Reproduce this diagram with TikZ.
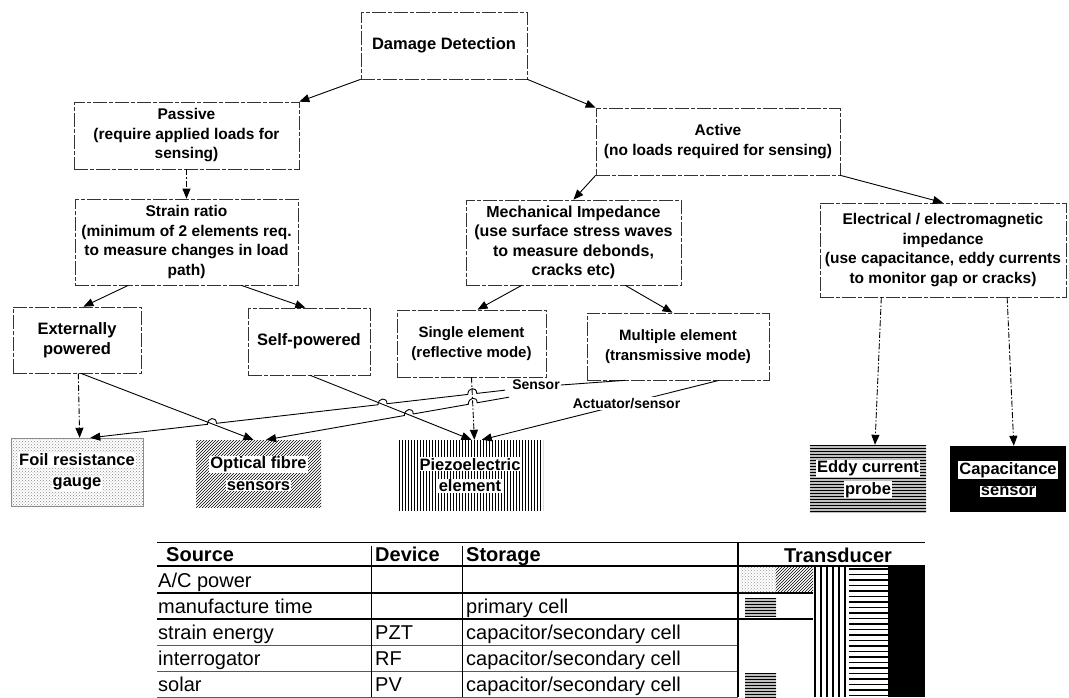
\documentclass[tikz,border=0pt]{standalone}
\usepackage{fontspec}
\setmainfont{Liberation Sans}
\usetikzlibrary{arrows.meta,patterns,calc,intersections}
\setlength{\fboxsep}{1pt}
\begin{document}
\begin{tikzpicture}[x=1pt,y=-1pt,
  box/.style={draw=black!80, line width=0.7pt, dash pattern=on 14pt off 2pt on 4pt off 2pt, rectangle, align=center, inner sep=1pt},
  t15/.style={font=\bfseries\fontsize{15}{19.5}\selectfont},
  t155/.style={font=\bfseries\fontsize{15.5}{19.5}\selectfont},
  t16/.style={font=\bfseries\fontsize{16}{19.5}\selectfont},
  t165/.style={font=\bfseries\fontsize{16.5}{20.5}\selectfont},
  con/.style={line width=0.9pt},
  arr/.style={con,-{Triangle[length=10pt,width=8pt]}},
  darr/.style={arr,dash pattern=on 6pt off 2pt on 1.5pt off 2pt},
  sensorbox/.style={rectangle, align=center, inner sep=0pt, font=\bfseries\fontsize{16.5}{21.5}\selectfont},
  tag/.style={fill=white, inner sep=1pt, font=\bfseries\fontsize{14}{17}\selectfont},
  cell/.style={anchor=base west, inner sep=0pt, font=\fontsize{20}{23}\selectfont},
  head/.style={anchor=base west, inner sep=0pt, font=\bfseries\fontsize{20}{24}\selectfont},
  rule/.style={line width=1.4pt},
  thinrule/.style={line width=0.7pt, black!65}
]
\useasboundingbox[fill=white] (0,0) rectangle (1069,698);

% ---------- classification boxes ----------
\node[box,t165,minimum width=166pt,minimum height=67pt] (dd) at (444,45.5) {Damage Detection};
\node[box,t155,minimum width=225pt,minimum height=67pt] (passive) at (186.5,135.5) {Passive\\(require applied loads for\\sensing)};
\node[box,t155,minimum width=244pt,minimum height=67pt] (active) at (718,141.5) {Active\\(no loads required for sensing)};
\node[box,t155,minimum width=223pt,minimum height=86pt] (strain) at (186.5,242) {Strain ratio\\(minimum of 2 elements req.\\to measure changes in load\\path)};
\node[box,t16,minimum width=215pt,minimum height=85pt] (mech) at (573.5,242.5) {Mechanical Impedance\\(use surface stress waves\\to measure debonds,\\cracks etc)};
\node[box,t155,minimum width=246pt,minimum height=94pt] (elec) at (943,250) {Electrical / electromagnetic\\impedance\\(use capacitance, eddy currents\\to monitor gap or cracks)};
\node[box,t165,minimum width=128pt,minimum height=66pt] (ext) at (77,340) {Externally\\powered};
\node[box,t165,minimum width=122pt,minimum height=67pt] (self) at (309,341.5) {Self-powered};
\node[box,t15,minimum width=149pt,minimum height=67pt] (single) at (471.5,343.5) {Single element\\(reflective mode)};
\node[box,t15,minimum width=182pt,minimum height=67pt] (mult) at (678,346.5) {Multiple element\\(transmissive mode)};

% ---------- transducers ----------
\node[sensorbox,minimum width=132pt,minimum height=68pt,draw=black!45,line width=0.4pt,pattern=crosshatch dots,pattern color=black!45] (foil) at (77,472) {\colorbox{white}{Foil resistance}\\\colorbox{white}{gauge}};
\node[sensorbox,minimum width=125pt,minimum height=67pt,pattern=north east lines] (optical) at (258.5,473.5) {\colorbox{white}{Optical fibre}\\\colorbox{white}{sensors}};
\node[sensorbox,minimum width=146pt,minimum height=70pt,pattern=vertical lines] (piezo) at (470,475) {\colorbox{white}{Piezoelectric}\\\colorbox{white}{element}};
\node[sensorbox,minimum width=116pt,minimum height=68pt,preaction={fill=black!25},pattern=horizontal lines] (eddy) at (868,479) {\colorbox{white}{Eddy current}\\\colorbox{white}{probe}};
\node[sensorbox,minimum width=116pt,minimum height=66pt,fill=black] (cap) at (1008,479) {\colorbox{white}{Capacitance}\\\colorbox{white}{sensor}};

% ---------- tree connectors ----------
\draw[arr] (dd.south west) -- (passive.north east);
\draw[arr] (dd.south east) -- (active.north west);
\draw[darr] (passive.south) -- (strain.north);
\draw[arr] (active.south west) -- (mech.north);
\draw[arr] (active.south east) -- (elec.north);
\draw[arr] ($(strain.south west)!0.24!(strain.south east)$) -- ($(ext.north west)!0.55!(ext.north east)$);
\draw[arr] ($(strain.south west)!0.745!(strain.south east)$) -- ($(self.north west)!0.47!(self.north east)$);
\draw[arr] ($(mech.south west)!0.26!(mech.south east)$) -- ($(single.north west)!0.54!(single.north east)$);
\draw[arr] ($(mech.south west)!0.74!(mech.south east)$) -- ($(mult.north west)!0.47!(mult.north east)$);
\draw[darr] ($(elec.south west)!0.25!(elec.south east)$) -- ($(eddy.north west)!0.56!(eddy.north east)$);
\draw[darr] ($(elec.south west)!0.76!(elec.south east)$) -- ($(cap.north west)!0.55!(cap.north east)$);

% ---------- power / sensing links ----------
\node[tag] (sens) at (536,385) {Sensor};
\coordinate (fS) at ($(ext.south west)!0.51!(ext.south east)$);
\coordinate (fE) at ($(foil.north west)!0.52!(foil.north east)$);
\coordinate (aS) at ($(ext.south west)!0.53!(ext.south east)$);
\coordinate (aE) at ($(optical.north west)!0.46!(optical.north east)$);
\coordinate (bS) at ($(self.south west)!0.51!(self.south east)$);
\coordinate (bE) at ($(piezo.north west)!0.51!(piezo.north east)$);
\coordinate (cS) at (single.south);
\coordinate (cE) at ($(piezo.north west)!0.53!(piezo.north east)$);
\coordinate (dS) at ($(sens.south west)+(-6,-1)$);
\coordinate (dE) at ($(foil.north west)!0.60!(foil.north east)$);
\coordinate (eS) at ($(sens.south west)+(-2,6)$);
\coordinate (eE) at ($(optical.north west)!0.56!(optical.north east)$);
\coordinate (gS) at ($(mult.south west)!0.725!(mult.south east)$);
\coordinate (gE) at ($(piezo.north west)!0.58!(piezo.north east)$);
\coordinate (mS) at ($(mult.south west)!0.21!(mult.south east)$);

\path[name path=pA] (aS) -- (aE);
\path[name path=pB] (bS) -- (bE);
\path[name path=pC] (cS) -- (cE);
\path[name path=pD] (dS) -- (dE);
\path[name path=pE] (eS) -- (eE);
\path[name intersections={of=pD and pC,by=dc}];
\path[name intersections={of=pD and pB,by=db}];
\path[name intersections={of=pD and pA,by=da}];
\path[name intersections={of=pE and pC,by=ec}];
\path[name intersections={of=pE and pB,by=eb}];

\draw[darr] (fS) -- (fE);
\draw[arr] (aS) -- (aE);
\draw[arr] (bS) -- (bE);
\draw[darr] (cS) -- (cE);
\draw[arr] (gS) -- (gE);
\draw[con] (mS) -- (sens.east);
\draw[arr] (dS) -- ($(dc)!4.5pt!(dS)$) .. controls +(0,-7) and +(0,-7) .. ($(dc)!4.5pt!(dE)$)
  -- ($(db)!4.5pt!(dS)$) .. controls +(0,-7) and +(0,-7) .. ($(db)!4.5pt!(dE)$)
  -- ($(da)!4.5pt!(dS)$) .. controls +(0,-7) and +(0,-7) .. ($(da)!4.5pt!(dE)$) -- (dE);
\draw[arr] (eS) -- ($(ec)!4.5pt!(eS)$) .. controls +(0,-7) and +(0,-7) .. ($(ec)!4.5pt!(eE)$)
  -- ($(eb)!4.5pt!(eS)$) .. controls +(0,-7) and +(0,-7) .. ($(eb)!4.5pt!(eE)$) -- (eE);
\node[tag] (act) at ($(gS)!0.39!(gE)$) {Actuator/sensor};

% ---------- power source table ----------
\draw[line width=1pt] (157,542) -- (925,542);
\draw[rule] (157,566) -- (925,566);
\draw[rule] (157,593) -- (813,593);
\draw[rule] (157,619) -- (813,619);
\draw[thinrule] (157,645) -- (738,645);
\draw[thinrule] (157,671) -- (738,671);
\draw[thinrule] (157,697) -- (738,697);
\draw[line width=1pt] (371,546) -- (371,697);
\draw[line width=1pt] (462,546) -- (462,697);

\path[pattern=crosshatch dots,pattern color=black!40] (740,567) rectangle (776,592);
\path[pattern=north east lines] (776,567) rectangle (813,592);
\foreach \i in {0,...,5} \draw[line width=1.6pt] (815+6*\i,567) -- (815+6*\i,697);
\foreach \i in {0,...,23} \draw[line width=1.2pt] (849,569+5.5*\i) -- (888,569+5.5*\i);
\fill (888,567) rectangle (925,697);
\path[preaction={fill=black!25},pattern=horizontal lines] (745,598) rectangle (776,617);
\path[preaction={fill=black!25},pattern=horizontal lines] (745,673) rectangle (776,697);
\draw[rule] (738,542) -- (738,697);

\node[head] (hsrc) at (166,561) {Source};
\node[head] (hdev) at (375,561) {Device};
\node[head] (hsto) at (466,561) {Storage};
\node[head,anchor=base] (htr) at (838,562) {Transducer};

\node[cell] (s1) at (158,587) {A/C power};
\node[cell] (s2) at (158,613) {manufacture time};
\node[cell] (s3) at (158,639) {strain energy};
\node[cell] (s4) at (158,665) {interrogator};
\node[cell] (s5) at (158,691) {solar};
\node[cell] (d3) at (375,639) {PZT};
\node[cell] (d4) at (375,665) {RF};
\node[cell] (d5) at (375,691) {PV};
\node[cell] (c2) at (466,613) {primary cell};
\node[cell] (c3) at (466,639) {capacitor/secondary cell};
\node[cell] (c4) at (466,665) {capacitor/secondary cell};
\node[cell] (c5) at (466,691) {capacitor/secondary cell};
\end{tikzpicture}
\end{document}
